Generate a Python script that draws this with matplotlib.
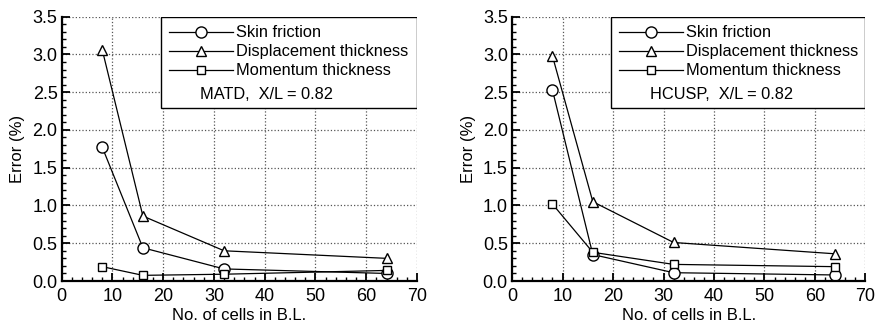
import matplotlib
matplotlib.use('Agg')
import matplotlib.pyplot as plt
from matplotlib.patches import Rectangle
from matplotlib.ticker import MultipleLocator

plt.rcParams['font.family'] = ['Liberation Sans', 'DejaVu Sans']

# number of cells in the boundary layer
cells = [8, 16, 32, 64]

# MATD scheme, X/L = 0.82
matd_skin = [1.77, 0.44, 0.16, 0.10]
matd_disp = [3.06, 0.86, 0.40, 0.30]
matd_mom = [0.19, 0.075, 0.09, 0.14]

# HCUSP scheme, X/L = 0.82
hcusp_skin = [2.53, 0.35, 0.11, 0.08]
hcusp_disp = [2.98, 1.05, 0.51, 0.36]
hcusp_mom = [1.02, 0.38, 0.22, 0.19]

series_labels = ['Skin friction', 'Displacement thickness', 'Momentum thickness']
panel_notes = ['MATD,  X/L = 0.82', 'HCUSP,  X/L = 0.82']

fig = plt.figure(figsize=(8.76, 3.26), dpi=100)
ax1 = fig.add_axes([0.0704, 0.138, 0.4056, 0.811])
ax2 = fig.add_axes([0.5845, 0.138, 0.4035, 0.811])


def draw_panel(ax, skin, disp, mom, note):
    ax.plot(cells, skin, '-', color='black', lw=0.9, marker='o', ms=8,
            mfc='white', mec='black', mew=1.0, label=series_labels[0])
    ax.plot(cells, disp, '-', color='black', lw=0.9, marker='^', ms=7,
            mfc='white', mec='black', mew=1.0, label=series_labels[1])
    ax.plot(cells, mom, '-', color='black', lw=0.9, marker='s', ms=6,
            mfc='white', mec='black', mew=1.0, label=series_labels[2])

    ax.set_xlim(0, 70)
    ax.set_ylim(0, 3.5)
    ax.xaxis.set_major_locator(MultipleLocator(10))
    ax.xaxis.set_minor_locator(MultipleLocator(2))
    ax.yaxis.set_major_locator(MultipleLocator(0.5))
    ax.yaxis.set_minor_locator(MultipleLocator(0.1))
    ax.yaxis.set_major_formatter(plt.FormatStrFormatter('%.1f'))
    ax.grid(True, which='major', color='#555555', ls=':', lw=0.9)
    ax.set_axisbelow(True)

    ax.spines['top'].set_visible(False)
    ax.spines['right'].set_visible(False)
    ax.spines['left'].set_linewidth(1.6)
    ax.spines['bottom'].set_linewidth(1.6)
    ax.tick_params(which='major', direction='in', length=6, width=1.3,
                   labelsize=13)
    ax.tick_params(axis='x', which='major', pad=5)
    ax.tick_params(axis='y', which='major', pad=3)
    ax.tick_params(which='minor', direction='in', length=3, width=1.0)

    ax.set_xlabel('No. of cells in B.L.', fontsize=12, labelpad=2)
    ax.set_ylabel('Error (%)', fontsize=12, labelpad=5)

    # legend box with the scheme note
    ax.add_patch(Rectangle((0.28, 0.655), 0.72, 0.345, transform=ax.transAxes,
                           fill=True, facecolor='white', edgecolor='black',
                           lw=1.0, zorder=5))
    leg = ax.legend(loc='upper left', bbox_to_anchor=(0.27, 1.01), frameon=False,
                    fontsize=11.8, handlelength=3.9, handletextpad=0.2,
                    labelspacing=0.24, borderaxespad=0.3)
    leg.set_zorder(6)
    ax.text(0.39, 0.705, note, transform=ax.transAxes, fontsize=11.8,
            ha='left', va='center', zorder=7)


draw_panel(ax1, matd_skin, matd_disp, matd_mom, panel_notes[0])
draw_panel(ax2, hcusp_skin, hcusp_disp, hcusp_mom, panel_notes[1])

fig.savefig('out.png', dpi=100)
